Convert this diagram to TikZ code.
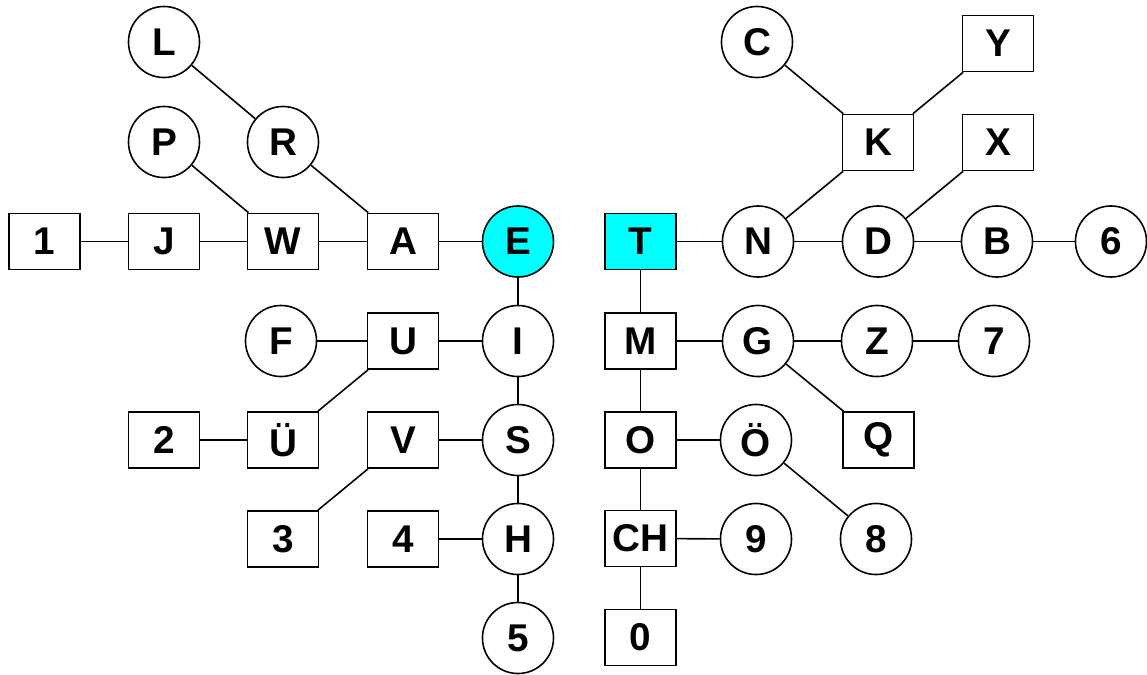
\documentclass[tikz,border=0pt]{standalone}
\usepackage{fontspec}
\setmainfont{Liberation Sans}
\definecolor{markCyan}{HTML}{00FFFF}

\begin{document}
\begin{tikzpicture}[x=0.01cm, y=-0.01cm, line width=0.45pt,
    every node/.style={font=\fontsize{11}{13}\selectfont\bfseries, inner sep=0pt},
    dotnode/.style={circle, draw, minimum size=0.71cm},
    dashnode/.style={rectangle, draw, minimum width=0.71cm, minimum height=0.56cm}]
    \useasboundingbox (0,0) rectangle (1147,675);

    % ---------- dot branch (E) ----------
    \node[dotnode, fill=markCyan] (E) at (518,241.5) {E};
    \foreach \n/\t/\x/\y in {I/I/518/341, S/S/518/440, H/H/518/539, 5/5/518/638,
                             R/R/283/142, L/L/164/42, P/P/164/142, F/F/281/341} {
        \node[dotnode] (\n) at (\x,\y) {\t};
    }
    \foreach \n/\t/\x/\y in {A/A/403/241.5, W/W/283/241.5, J/J/164/241.5, 1/1/44.5/241.5,
                             U/U/403/341, Ue/Ü/283/440, 2/2/164/440,
                             V/V/403/440, 3/3/283/539, 4/4/403/539} {
        \node[dashnode] (\n) at (\x,\y) {\t};
    }

    % ---------- dash branch (T) ----------
    \node[dashnode, fill=markCyan] (T) at (640.5,241.5) {T};
    \foreach \n/\t/\x/\y in {N/N/758/241.5, D/D/878/241.5, B/B/997/241.5, 6/6/1111/241.5,
                             C/C/757/42, G/G/758/341, Z/Z/877/341, 7/7/994/341,
                             Oe/Ö/756/440, 9/9/756/539, 8/8/876/539} {
        \node[dotnode] (\n) at (\x,\y) {\t};
    }
    \foreach \n/\t/\x/\y in {K/K/878/142.5, Y/Y/998/43.5, X/X/998/142.5,
                             M/M/640.5/341, O/O/640.5/440, CH/CH/640.5/538.5,
                             0/0/640.5/637.5, Q/Q/878.5/440} {
        \node[dashnode] (\n) at (\x,\y) {\t};
    }

    % ---------- links ----------
    \foreach \a/\b in {E/A, A/W, W/J, J/1, A/R, R/L, W/P,
                       E/I, I/U, U/F, U/Ue, Ue/2, I/S, S/V, V/3, S/H, H/4, H/5,
                       T/N, N/D, D/B, B/6, N/K, K/C, K/Y, D/X,
                       T/M, M/G, G/Z, Z/7, G/Q, M/O, O/Oe, Oe/8, O/CH, CH/9, CH/0} {
        \draw (\a) -- (\b);
    }
\end{tikzpicture}
\end{document}
